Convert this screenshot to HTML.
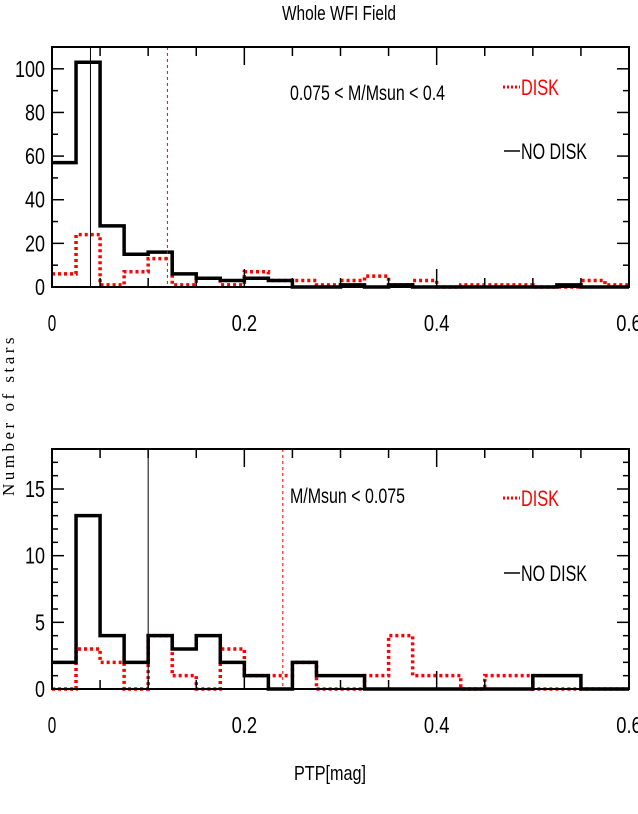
<!DOCTYPE html>
<html><head><meta charset="utf-8"><style>
html,body{margin:0;padding:0;background:#fff;}
svg{display:block;font-family:"Liberation Sans",sans-serif;}
</style></head><body>
<svg id="c" width="638" height="814" viewBox="0 0 638 814">
<text x="339" y="20" text-anchor="middle" font-size="20" textLength="114" lengthAdjust="spacingAndGlyphs">Whole WFI Field</text>
<text transform="translate(14,415) rotate(-90)" text-anchor="middle" font-family="Liberation Serif,serif" font-size="17" letter-spacing="3.5">Number of stars</text>
<text x="330" y="780" text-anchor="middle" font-size="20" textLength="72" lengthAdjust="spacingAndGlyphs">PTP[mag]</text>
</svg>
<script>
// bins of width 0.025 from 0 to 0.6
const binWidth = 0.025;
const topNoDisk = [57,103,28,15,16,6,4,3,4,3,0,0,1,0,1,0,0,0,0,0,0,1,0,0];
const topDisk   = [6,24,1,7,13,1,4,1,7,3,3,1,3,5,1,3,0,1,1,1,0,0,3,1];
const botNoDisk = [2,13,4,2,4,3,4,2,1,0,2,1,1,0,0,0,0,0,0,0,1,1,0,0];
const botDisk   = [0,3,2,0,4,1,0,3,1,1,2,0,0,1,4,1,1,0,1,1,0,0,0,0];
const xTicks = [0,0.2,0.4,0.6];
const topYTicks = [0,20,40,60,80,100];
const botYTicks = [0,5,10,15];
const topLines = [0.04,0.12];
const botLines = [0.1,0.24];

const svg = document.getElementById('c');
const NS = 'http://www.w3.org/2000/svg';
function mk(tag, attrs, parent){const e=document.createElementNS(NS,tag);for(const k in attrs)e.setAttribute(k,attrs[k]);(parent||svg).appendChild(e);return e;}

function panel(name, top, bottom, ymax, yTicks, yMinor, noDisk, disk, lines, label){
  const L=52,R=629;
  const g=mk('g',{});
  
  
  const sx=v=>L+(R-L)*v/0.6;
  const sy=v=>bottom-(bottom-top)*v/ymax;
  function hist(vals,color,w,dash,nm){
    let d='';
    vals.forEach((v,i)=>{const x0=sx(i*binWidth),x1=sx((i+1)*binWidth),y=sy(v);
      d+=(i===0?'M'+x0+','+y:'L'+x0+','+y)+'L'+x1+','+y;});
    const p=mk('path',{d:d,fill:'none',stroke:color,'stroke-width':w,'stroke-dasharray':dash||'none'},g);
    
    
  }
  hist(disk,'#f00',3.5,'3,3',name+'-disk-series');
  hist(noDisk,'#000',3.5,null,name+'-nodisk-series');
  const l1=mk('line',{x1:sx(lines[0]),x2:sx(lines[0]),y1:top,y2:bottom,stroke:'#000','stroke-width':1},g);
  
  
  const l2=mk('line',{x1:sx(lines[1]),x2:sx(lines[1]),y1:top,y2:bottom,stroke:'#f00','stroke-width':1,'stroke-dasharray':'3,3'},g);
  
  
  const f=mk('rect',{x:L,y:top,width:R-L,height:bottom-top,fill:'none',stroke:'#000','stroke-width':2},g);
  
  
  for(let v=0;v<=0.6001;v+=0.05){
    const major=Math.abs(v/0.2-Math.round(v/0.2))<1e-6, len=major?18:9;
    mk('line',{x1:sx(v),x2:sx(v),y1:bottom,y2:bottom-len,stroke:'#000','stroke-width':1.5},g);
    mk('line',{x1:sx(v),x2:sx(v),y1:top,y2:top+len,stroke:'#000','stroke-width':1.5},g);
  }
  xTicks.forEach(v=>{const s=String(v);
    const t=mk('text',{x:sx(v),y:bottom+44,'text-anchor':'middle','font-size':23,textLength:s.length*8.5,lengthAdjust:'spacingAndGlyphs'},g);
    t.textContent=s;
    
    });
  for(let v=0;v<=ymax;v+=yMinor){
    const major=yTicks.includes(v), len=major?12:6;
    mk('line',{x1:L,x2:L+len,y1:sy(v),y2:sy(v),stroke:'#000','stroke-width':1.5},g);
    mk('line',{x1:R,x2:R-len,y1:sy(v),y2:sy(v),stroke:'#000','stroke-width':1.5},g);
  }
  yTicks.forEach(v=>{const t=mk('text',{x:45,y:sy(v)+8,'text-anchor':'end','font-size':23,'textLength':String(v).length*10,'lengthAdjust':'spacingAndGlyphs'},g);
    t.textContent=String(v);
    
    });
  const lt=mk('text',{x:label.x,y:label.y,'font-size':21,textLength:label.w,lengthAdjust:'spacingAndGlyphs'},g);
  lt.textContent=label.t;
  
  
  const ly=top+(name==='top-panel'?48:57);
  mk('line',{x1:503,x2:520,y1:ly-8,y2:ly-8,stroke:'#f00','stroke-width':3,'stroke-dasharray':'2,2'},g);
  const d=mk('text',{x:521,y:ly,'font-size':22,fill:'#f00',textLength:38,lengthAdjust:'spacingAndGlyphs'},g);
  d.textContent='DISK';
  
  
  const ly2=top+(name==='top-panel'?112:132);
  mk('line',{x1:504,x2:520,y1:ly2-8,y2:ly2-8,stroke:'#000','stroke-width':1.5},g);
  const n=mk('text',{x:521,y:ly2,'font-size':22,textLength:66,lengthAdjust:'spacingAndGlyphs'},g);
  n.textContent='NO DISK';
  
  
}
panel('top-panel',47,287,110,topYTicks,10,topNoDisk,topDisk,topLines,{t:'0.075 < M/Msun < 0.4',x:290,y:100,w:155});
panel('bottom-panel',449,689,18,botYTicks,1,botNoDisk,botDisk,botLines,{t:'M/Msun < 0.075',x:290,y:503,w:115});
</script>
</body></html>
